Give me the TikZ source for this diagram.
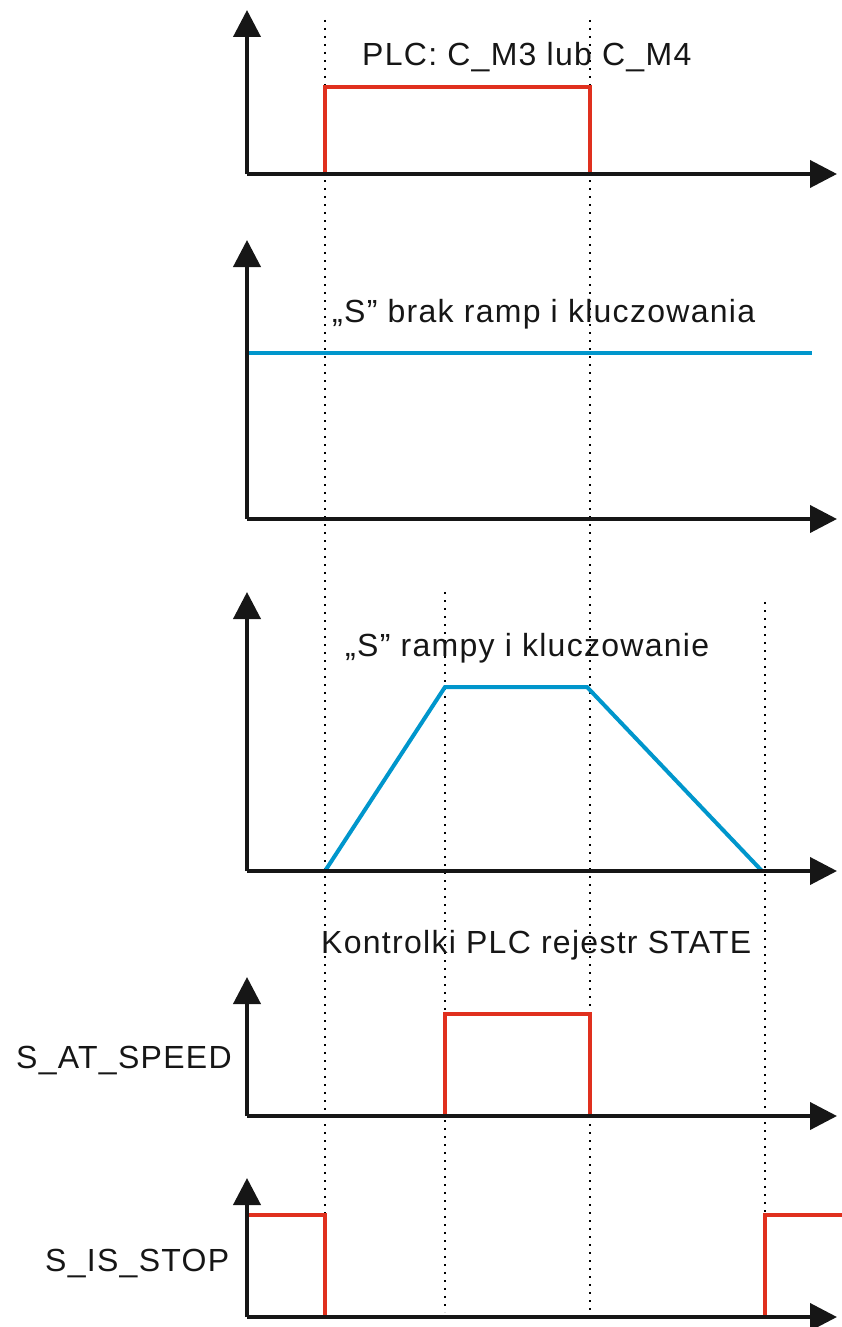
\documentclass[tikz,border=0pt]{standalone}
\usepackage{fontspec}
\setmainfont[LetterSpace=4]{Liberation Sans}
\usetikzlibrary{arrows.meta}
\definecolor{sigred}{HTML}{E0301E}
\definecolor{sigcyan}{HTML}{0096CC}
\definecolor{axisblack}{HTML}{161616}
\tikzset{
  axisline/.style={draw=axisblack, line width=4pt, -{Triangle[length=27pt,width=27pt]}},
  redsig/.style={draw=sigred, line width=4pt, line join=miter},
  cyansig/.style={draw=sigcyan, line width=4pt, line join=miter},
  dotline/.style={draw=black, line width=2.2pt, dash pattern=on 2.2pt off 5.8pt},
  lbl/.style={anchor=base west, inner sep=0pt, font=\fontsize{32}{38}\selectfont, text=axisblack}
}
\begin{document}
\begin{tikzpicture}[x=1pt,y=-1pt]
\useasboundingbox (0,0) rectangle (842,1327);
% dotted time markers
\coordinate (d1t) at (325,20);   \coordinate (d1b) at (325,1322);
\coordinate (d2t) at (590,20);   \coordinate (d2b) at (590,1312);
\coordinate (d3t) at (445,592);  \coordinate (d3b) at (445,1312);
\coordinate (d4t) at (765,602);  \coordinate (d4b) at (765,1312);
\draw[dotline] (d1t) -- (d1b);
\draw[dotline] (d2t) -- (d2b);
\draw[dotline] (d3t) -- (d3b);
\draw[dotline] (d4t) -- (d4b);
% panel 1
\coordinate (o1) at (247,174);
\coordinate (y1) at (247,10);
\coordinate (x1) at (837,174);
\draw[redsig] (325,174) -- (325,87) -- (590,87) -- (590,174);
\draw[axisline] (o1) -- (y1);
\draw[axisline] (o1) -- (x1);
\node[lbl] (t1) at (362,66) {PLC: C\_M3 lub C\_M4};
% panel 2
\coordinate (o2) at (247,519);
\coordinate (y2) at (247,240);
\coordinate (x2) at (837,519);
\coordinate (c2a) at (247,353);
\coordinate (c2b) at (812,353);
\draw[cyansig] (c2a) -- (c2b);
\draw[axisline] (o2) -- (y2);
\draw[axisline] (o2) -- (x2);
\node[lbl] (t2) at (332,322) {„S” brak ramp i kluczowania};
% panel 3
\coordinate (o3) at (247,871);
\coordinate (y3) at (247,592);
\coordinate (x3) at (837,871);
\draw[cyansig] (325,871) -- (445,687) -- (587,687) -- (762,871);
\draw[axisline] (o3) -- (y3);
\draw[axisline] (o3) -- (x3);
\node[lbl] (t3) at (345,656) {„S” rampy i kluczowanie};
% panel 4
\node[lbl] (t4) at (321,953) {Kontrolki PLC rejestr STATE};
\coordinate (o4) at (247,1116);
\coordinate (y4) at (247,977);
\coordinate (x4) at (837,1116);
\draw[redsig] (445,1116) -- (445,1014) -- (590,1014) -- (590,1116);
\draw[axisline] (o4) -- (y4);
\draw[axisline] (o4) -- (x4);
\node[lbl] (l4) at (16,1068) {S\_AT\_SPEED};
% panel 5
\coordinate (o5) at (247,1317);
\coordinate (y5) at (247,1178);
\coordinate (x5) at (837,1317);
\draw[redsig] (247,1215) -- (325,1215) -- (325,1317);
\draw[redsig] (765,1317) -- (765,1215) -- (842,1215);
\draw[axisline] (o5) -- (y5);
\draw[axisline] (o5) -- (x5);
\node[lbl] (l5) at (45,1271) {S\_IS\_STOP};
\end{tikzpicture}
\end{document}
